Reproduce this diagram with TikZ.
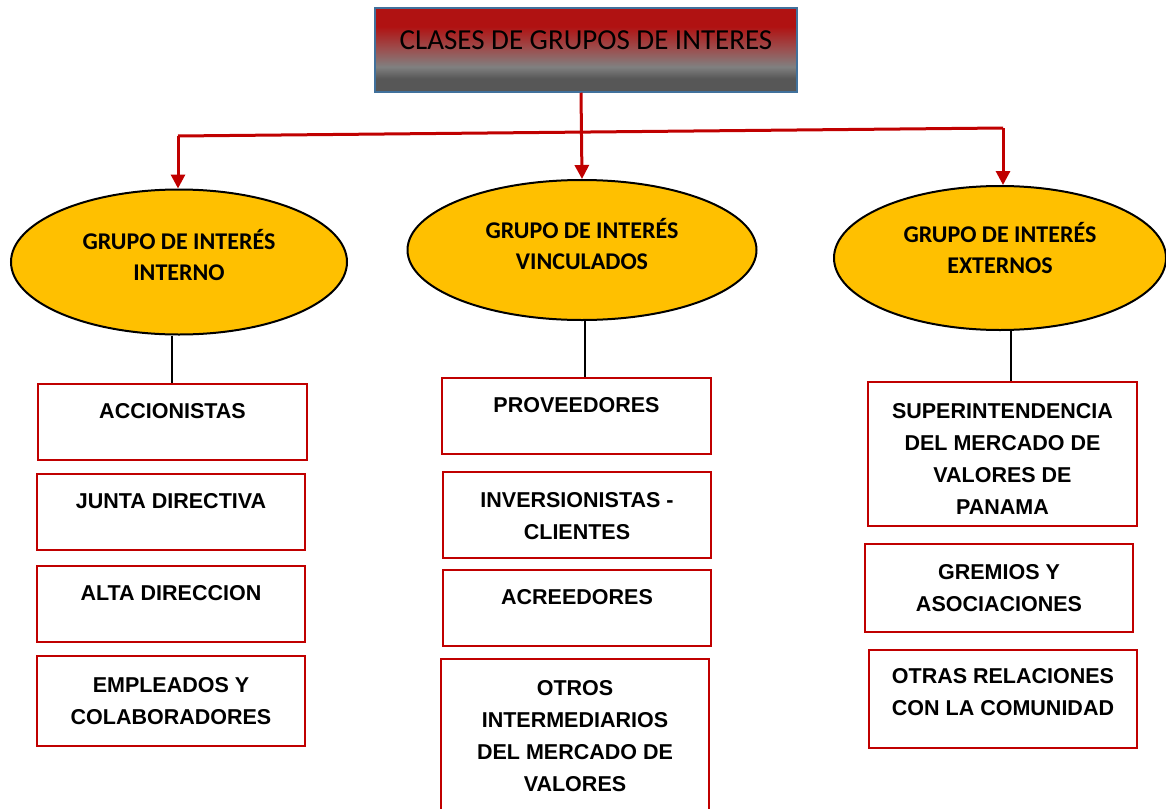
\documentclass[tikz,border=0pt]{standalone}
\usepackage{fontspec}
\setmainfont{Liberation Sans}
\newfontfamily\calfont{Carlito}
\usetikzlibrary{shapes.geometric,arrows.meta}
\definecolor{tred}{HTML}{B01212}
\definecolor{rgray}{HTML}{9A5252}
\definecolor{mgray}{HTML}{808080}
\definecolor{dgray}{HTML}{575757}
\definecolor{boxred}{HTML}{C00000}
\definecolor{ellfill}{HTML}{FFC000}
\definecolor{tborder}{HTML}{41719C}
\pgfdeclareverticalshading{titleshade}{100bp}{color(0bp)=(dgray); color(33bp)=(dgray); color(40bp)=(mgray); color(50bp)=(rgray); color(64bp)=(tred); color(100bp)=(tred)}
\tikzset{
  titlebox/.style={draw=tborder, line width=1.5pt, shading=titleshade, minimum width=422pt, minimum height=84pt, inner sep=0pt},
  titletext/.style={font=\calfont\fontsize{29}{34}\selectfont, text=black, inner sep=0pt},
  grp/.style={ellipse, draw=black, line width=2pt, fill=ellfill, inner sep=0pt},
  grptext/.style={font=\calfont\bfseries\fontsize{24}{31}\selectfont, align=center, inner sep=0pt},
  itembox/.style={draw=boxred, line width=2.5pt, fill=white, inner sep=0pt},
  itemtext/.style={font=\bfseries\fontsize{21.5}{32}\selectfont, align=center, inner sep=0pt},
  redarrow/.style={draw=boxred, line width=3pt, -{Triangle[width=14pt,length=14pt]}},
  redline/.style={draw=boxred, line width=3pt},
  blackline/.style={draw=black, line width=2pt}
}
\begin{document}
\begin{tikzpicture}[x=1pt,y=-1pt]
\useasboundingbox (0,0) rectangle (1166,808);
\clip (0,0) rectangle (1166,808);
% title
\node[titlebox] (title) at (586,50) {};
\node[titletext] (titlet) at (586,40) {CLASES DE GRUPOS DE INTERES};
% ellipses
\node[grp, minimum width=336pt, minimum height=145pt] (e1) at (179,262) {};
\node[grp, minimum width=349pt, minimum height=140pt] (e2) at (582,250) {};
\node[grp, minimum width=332pt, minimum height=144pt] (e3) at (1000,258) {};
\node[grptext] (e1t) at (179,255) {GRUPO DE INTERÉS\\INTERNO};
\node[grptext] (e2t) at (582,244) {GRUPO DE INTERÉS\\VINCULADOS};
\node[grptext] (e3t) at (1000,248) {GRUPO DE INTERÉS\\EXTERNOS};
% red connectors
\coordinate (hl) at (178,136);
\coordinate (hr) at (1003,128);
\draw[redline] (hl) -- (hr);
\draw[redarrow] (title.south -| 581,0) -- (e2.north);
\draw[redarrow] (hl) -- (e1.north -| hl);
\draw[redarrow] (hr) -- (e3.north -| hr);
% left column
\node[itembox, minimum width=269pt, minimum height=76pt] (l1) at (172.5,422) {};
\node[itembox, minimum width=268pt, minimum height=76pt] (l2) at (171,512) {};
\node[itembox, minimum width=268pt, minimum height=76pt] (l3) at (171,604) {};
\node[itembox, minimum width=268pt, minimum height=90pt] (l4) at (171,701) {};
\node[itemtext] at (172.5,411) {ACCIONISTAS};
\node[itemtext] at (171,501) {JUNTA DIRECTIVA};
\node[itemtext] at (171,593) {ALTA DIRECCION};
\node[itemtext] at (171,701) {EMPLEADOS Y\\COLABORADORES};
% middle column
\node[itembox, minimum width=269pt, minimum height=76pt] (m1) at (576.5,416) {};
\node[itembox, minimum width=268pt, minimum height=86pt] (m2) at (577,515) {};
\node[itembox, minimum width=268pt, minimum height=76pt] (m3) at (577,608) {};
\node[itembox, minimum width=268pt, minimum height=160pt] (m4) at (575,739) {};
\node[itemtext] at (576.5,405) {PROVEEDORES};
\node[itemtext] at (577,516) {INVERSIONISTAS -\\CLIENTES};
\node[itemtext] at (577,597) {ACREEDORES};
\node[itemtext] at (575,736) {OTROS\\INTERMEDIARIOS\\DEL MERCADO DE\\VALORES};
% right column
\node[itembox, minimum width=269pt, minimum height=144pt] (r1) at (1002.5,454) {};
\node[itembox, minimum width=268pt, minimum height=88pt] (r2) at (999,588) {};
\node[itembox, minimum width=268pt, minimum height=98pt] (r3) at (1003,699) {};
\node[itemtext] at (1002.5,459) {SUPERINTENDENCIA\\DEL MERCADO DE\\VALORES DE\\PANAMA};
\node[itemtext] at (999,588) {GREMIOS Y\\ASOCIACIONES};
\node[itemtext] at (1003,692) {OTRAS RELACIONES\\CON LA COMUNIDAD};
% black connectors
\draw[blackline] (e1.south -| 172,0) -- (l1.north -| 172,0);
\draw[blackline] (e2.south -| 585,0) -- (m1.north -| 585,0);
\draw[blackline] (e3.south -| 1011,0) -- (r1.north -| 1011,0);
\end{tikzpicture}
\end{document}
